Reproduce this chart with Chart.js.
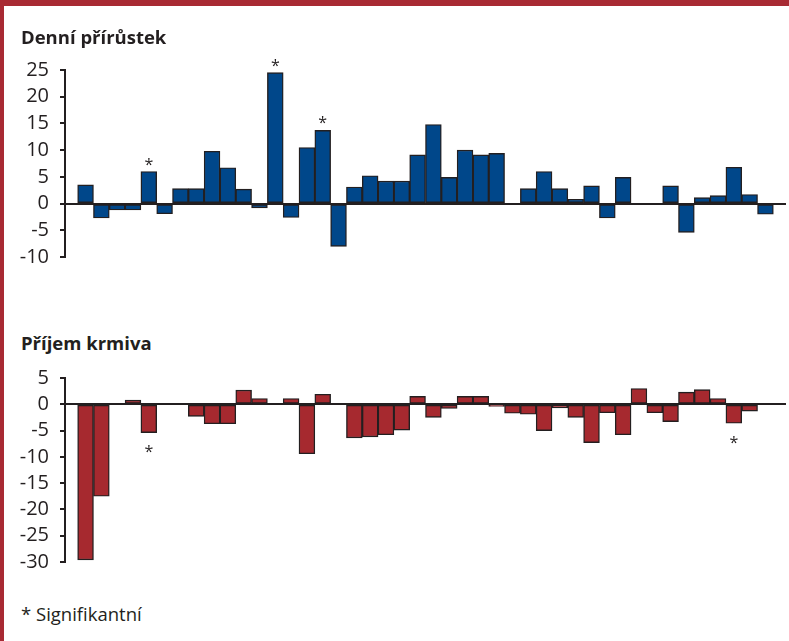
<!DOCTYPE html>
<html>
<head>
<meta charset="utf-8">
<script src="https://cdn.jsdelivr.net/npm/chart.js@4.4.1/dist/chart.umd.min.js"></script>
<style>
  html, body { margin: 0; padding: 0; background: #ffffff; }
  body { width: 789px; height: 641px; position: relative; overflow: hidden; font-family: "Open Sans", sans-serif; color: #231f20; }
  .band { position: absolute; left: 0; top: 0; width: 789px; height: 6px; background: #a82a33; }
  .side { position: absolute; left: 0; top: 0; width: 4px; height: 641px; background: #a82a33; }
  .ttl { position: absolute; left: 21px; font-weight: 700; font-size: 18.5px; line-height: 18.5px; white-space: nowrap; z-index: 2; }
  .note { position: absolute; left: 21px; top: 605px; font-size: 18.5px; line-height: 18.5px; white-space: nowrap; z-index: 2; }
  .wrap { position: absolute; left: 0; width: 789px; }
</style>
</head>
<body>
<div class="band"></div>
<div class="side"></div>
<div class="ttl" style="top:28px">Denní přírůstek</div>
<div class="ttl" style="top:334px">Příjem krmiva</div>
<div class="note">* Signifikantní</div>
<div class="wrap" style="top:40px;height:240px"><canvas id="c1"></canvas></div>
<div class="wrap" style="top:355px;height:230px"><canvas id="c2"></canvas></div>
<script>
// ---- data ----
const categories = [1,2,3,4,5,6,7,8,9,10,11,12,13,14,15,16,17,18,19,20,21,22,23,24,25,26,27,28,29,30,31,32,33,34,35,36,37,38,39,40,41,42,43,44];
const gainValues = [3.5,-2.7,-1.2,-1.2,6.0,-1.9,2.8,2.8,9.8,6.7,2.7,-0.8,24.5,-2.6,10.5,13.7,-8.0,3.1,5.2,4.2,4.2,9.1,14.8,4.9,10.0,9.1,9.4,null,2.8,6.0,2.8,0.8,3.3,-2.7,4.9,null,null,3.3,-5.4,1.1,1.5,6.8,1.7,-2.0];
const intakeValues = [-29.6,-17.5,null,0.8,-5.4,null,null,-2.3,-3.7,-3.7,2.7,1.1,null,1.1,-9.4,1.9,null,-6.4,-6.2,-5.8,-4.9,1.5,-2.5,-0.8,1.5,1.5,-0.4,-1.7,-1.9,-5.0,-0.7,-2.5,-7.3,-1.6,-5.8,3.0,-1.6,-3.3,2.3,2.8,1.1,-3.6,-1.3,null];
const gainSignificant = [5, 13, 16];     // category numbers marked with *
const intakeSignificant = [5, 42];
const gainTicks = { min: -10, max: 25, step: 5 };
const intakeTicks = { min: -30, max: 5, step: 5 };
const starText = '*';

// ---- styles ----
const INK = '#231f20';
const BLUE = '#00478a';
const RED = '#a6292f';

const starPlugin = {
  id: 'stars',
  afterDatasetsDraw(chart, args, opts) {
    const meta = chart.getDatasetMeta(0);
    const data = chart.data.datasets[0].data;
    const ctx = chart.ctx;
    ctx.save();
    ctx.font = '16px "Open Sans"';
    ctx.fillStyle = INK;
    ctx.textAlign = 'center';
    ctx.textBaseline = 'alphabetic';
    const m = ctx.measureText(starText);
    const half = (m.actualBoundingBoxAscent - m.actualBoundingBoxDescent) / 2;
    (opts.indices || []).forEach(cat => {
      const i = data.findIndex(d => d.x === cat);
      if (i < 0) return;
      const el = meta.data[i];
      const v = data[i].y;
      const cy = v >= 0 ? el.y - opts.above : el.y + opts.below;
      ctx.fillText(starText, el.x, cy + half);
    });
    ctx.restore();
  }
};

function makeChart(id, values, color, tickCfg, signif, pad) {
  const points = values.map((v, i) => ({ x: categories[i], y: v }));
  return new Chart(document.getElementById(id), {
    type: 'bar',
    data: {
      datasets: [{
        data: points,
        backgroundColor: color,
        borderColor: INK,
        borderWidth: 1.4,
        borderSkipped: false,
        barPercentage: 1.0,
        categoryPercentage: 1.0
      }]
    },
    options: {
      responsive: true,
      maintainAspectRatio: false,
      animation: false,
      devicePixelRatio: 1,
      layout: { padding: { left: 0, right: 3, top: pad.top, bottom: pad.bottom } },
      plugins: {
        legend: { display: false },
        tooltip: { enabled: false },
        stars: { indices: signif, above: 10, below: 16.5 }
      },
      scales: {
        x: {
          type: 'linear',
          display: false,
          offset: false,
          min: categories[0] - 1.3,
          max: categories[categories.length - 1] + 1.3
        },
        y: {
          min: tickCfg.min,
          max: tickCfg.max,
          afterFit(scale) { scale.width = 65; },
          ticks: {
            stepSize: tickCfg.step,
            autoSkip: false,
            color: INK,
            padding: 11,
            font: { family: '"Open Sans"', size: 20 }
          },
          grid: {
            color: c => (c.tick && c.tick.value === 0) ? INK : 'rgba(0,0,0,0)',
            lineWidth: 2,
            tickColor: INK,
            tickLength: 5,
            tickWidth: 2
          },
          border: { display: true, color: INK, width: 2 }
        }
      }
    },
    plugins: [starPlugin]
  });
}

makeChart('c1', gainValues, BLUE, gainTicks, gainSignificant, { top: 30, bottom: 22 });
makeChart('c2', intakeValues, RED, intakeTicks, intakeSignificant, { top: 19, bottom: 19 });
</script>
</body>
</html>
